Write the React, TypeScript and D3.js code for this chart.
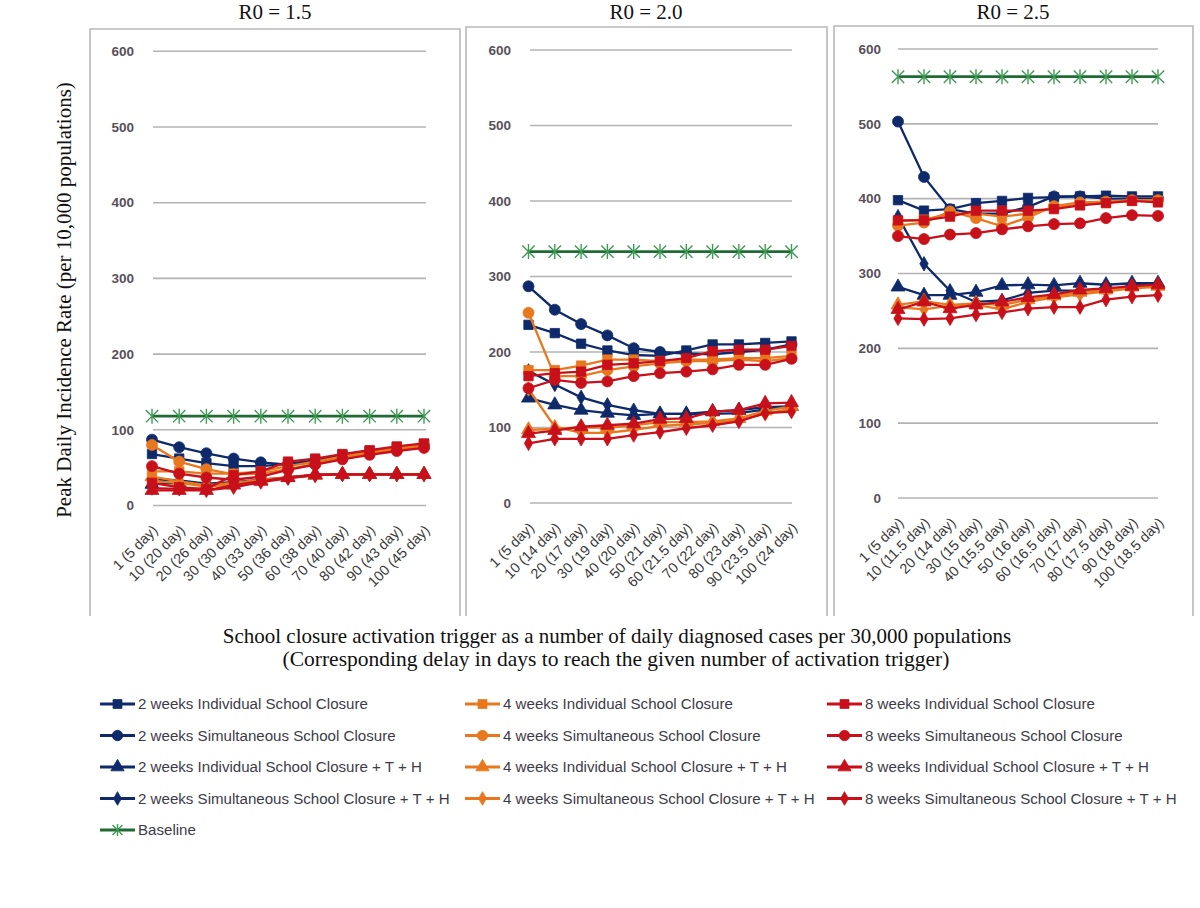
import React from "react";
import * as d3 from "d3";

// ---------- DATA ----------
const categoriesR15 = ["1 (5 day)", "10 (20 day)", "20 (26 day)", "30 (30 day)", "40 (33 day)", "50 (36 day)", "60 (38 day)", "70 (40 day)", "80 (42 day)", "90 (43 day)", "100 (45 day)"];
const categoriesR20 = ["1 (5 day)", "10 (14 day)", "20 (17 day)", "30 (19 day)", "40 (20 day)", "50 (21 day)", "60 (21.5 day)", "70 (22 day)", "80 (23 day)", "90 (23.5 day)", "100 (24 day)"];
const categoriesR25 = ["1 (5 day)", "10 (11.5 day)", "20 (14 day)", "30 (15 day)", "40 (15.5 day)", "50 (16 day)", "60 (16.5 day)", "70 (17 day)", "80 (17.5 day)", "90 (18 day)", "100 (18.5 day)"];
const yTicks = [0, 100, 200, 300, 400, 500, 600];
const panelTitles = ["R0 = 1.5", "R0 = 2.0", "R0 = 2.5"];

const seriesNames = [
  "2 weeks Individual School Closure",
  "2 weeks Simultaneous  School Closure",
  "2 weeks Individual School Closure + T + H",
  "2 weeks Simultaneous  School Closure + T + H",
  "4 weeks Individual School Closure",
  "4 weeks Simultaneous  School Closure",
  "4 weeks Individual School Closure + T + H",
  "4 weeks Simultaneous  School Closure + T + H",
  "8 weeks Individual School Closure",
  "8 weeks Simultaneous  School Closure",
  "8 weeks Individual School Closure + T + H",
  "8 weeks Simultaneous  School Closure + T + H",
  "Baseline",
];

// R0 = 1.5
const r15Ind2 = [68, 62, 56, 52, 52, 55, 60, 67, 72, 77, 81];
const r15Sim2 = [87, 77, 69, 62, 57, 54, 57, 64, 70, 75, 79];
const r15IndTH2 = [28, 30, 27, 30, 33, 37, 40, 41, 41, 41, 41];
const r15SimTH2 = [35, 33, 29, 31, 34, 37, 40, 41, 41, 41, 41];
const r15Ind4 = [45, 45, 42, 42, 45, 52, 58, 65, 71, 76, 80];
const r15Sim4 = [80, 58, 48, 41, 42, 48, 55, 63, 69, 74, 78];
const r15IndTH4 = [38, 32, 27, 30, 34, 37, 40, 41, 41, 41, 41];
const r15SimTH4 = [32, 30, 25, 28, 33, 37, 40, 41, 41, 41, 41];
const r15Ind8 = [30, 24, 22, 40, 45, 58, 62, 68, 73, 78, 82];
const r15Sim8 = [52, 42, 37, 34, 38, 47, 54, 61, 67, 72, 76];
const r15IndTH8 = [20, 20, 20, 27, 32, 37, 41, 41, 41, 41, 41];
const r15SimTH8 = [23, 22, 20, 24, 31, 36, 40, 41, 41, 41, 41];
const r15Base = [118, 118, 118, 118, 118, 118, 118, 118, 118, 118, 118];

// R0 = 2.0
const r20Ind2 = [236, 225, 211, 202, 196, 195, 202, 210, 210, 212, 214];
const r20Sim2 = [287, 256, 237, 222, 205, 200, 198, 197, 200, 203, 210];
const r20IndTH2 = [139, 130, 123, 119, 116, 118, 118, 121, 123, 127, 128];
const r20SimTH2 = [175, 157, 140, 130, 123, 118, 118, 118, 119, 124, 128];
const r20Ind4 = [176, 176, 182, 190, 190, 188, 190, 190, 192, 192, 195];
const r20Sim4 = [252, 168, 168, 176, 181, 185, 188, 188, 190, 188, 192];
const r20IndTH4 = [97, 98, 100, 100, 103, 107, 107, 108, 112, 122, 128];
const r20SimTH4 = [151, 101, 93, 93, 97, 102, 104, 106, 110, 118, 125];
const r20Ind8 = [168, 172, 174, 183, 185, 188, 192, 201, 203, 203, 208];
const r20Sim8 = [152, 163, 159, 161, 168, 172, 174, 177, 183, 183, 191];
const r20IndTH8 = [92, 96, 101, 103, 105, 111, 112, 121, 123, 132, 133];
const r20SimTH8 = [79, 85, 85, 85, 90, 94, 99, 103, 108, 119, 121];
const r20Base = [333, 333, 333, 333, 333, 333, 333, 333, 333, 333, 333];

// R0 = 2.5
const r25Ind2 = [398, 384, 386, 394, 397, 401, 402, 403, 404, 403, 403];
const r25Sim2 = [503, 429, 386, 380, 380, 389, 403, 403, 400, 400, 400];
const r25IndTH2 = [282, 271, 271, 275, 284, 285, 284, 287, 285, 287, 287];
const r25SimTH2 = [376, 313, 277, 262, 264, 274, 277, 277, 277, 284, 285];
const r25Ind4 = [370, 372, 380, 380, 376, 380, 388, 392, 395, 397, 397];
const r25Sim4 = [364, 368, 383, 374, 363, 375, 390, 395, 396, 398, 398];
const r25IndTH4 = [258, 263, 258, 260, 258, 265, 270, 275, 278, 282, 283];
const r25SimTH4 = [255, 252, 257, 258, 252, 262, 268, 272, 276, 280, 282];
const r25Ind8 = [371, 371, 376, 384, 384, 384, 386, 391, 394, 397, 395];
const r25Sim8 = [350, 346, 352, 354, 359, 363, 366, 367, 374, 378, 377];
const r25IndTH8 = [252, 262, 253, 258, 262, 268, 272, 278, 280, 283, 285];
const r25SimTH8 = [240, 239, 240, 245, 248, 253, 255, 255, 265, 269, 271];
const r25Base = [563, 563, 563, 563, 563, 563, 563, 563, 563, 563, 563];

// ---------- STYLES ----------
const NAVY = "#0f2a6b";
const ORANGE = "#e8771e";
const RED = "#c8101a";
const GREEN_LINE = "#1f6b33";
const GREEN_MARK = "#3f9a55";
const seriesColors = [NAVY, NAVY, NAVY, NAVY, ORANGE, ORANGE, ORANGE, ORANGE, RED, RED, RED, RED, GREEN_LINE];
const seriesShapes = ["square", "circle", "triangle", "diamond", "square", "circle", "triangle", "diamond", "square", "circle", "triangle", "diamond", "star"];

const panelData = [
  { cats: categoriesR15, series: [r15Ind2, r15Sim2, r15IndTH2, r15SimTH2, r15Ind4, r15Sim4, r15IndTH4, r15SimTH4, r15Ind8, r15Sim8, r15IndTH8, r15SimTH8, r15Base] },
  { cats: categoriesR20, series: [r20Ind2, r20Sim2, r20IndTH2, r20SimTH2, r20Ind4, r20Sim4, r20IndTH4, r20SimTH4, r20Ind8, r20Sim8, r20IndTH8, r20SimTH8, r20Base] },
  { cats: categoriesR25, series: [r25Ind2, r25Sim2, r25IndTH2, r25SimTH2, r25Ind4, r25Sim4, r25IndTH4, r25SimTH4, r25Ind8, r25Sim8, r25IndTH8, r25SimTH8, r25Base] },
];

// layout (pixels)
const panelLayout = [
  { boxL: 90, boxR: 460, boxT: 29, x0: 152, x1: 424, gx0: 153, gx1: 426, y0: 505.5, y600: 51.3, labelX: 134, titleX: 275 },
  { boxL: 466, boxR: 827, boxT: 27, x0: 528.5, x1: 791.5, gx0: 530, gx1: 792, y0: 503, y600: 50, labelX: 511, titleX: 646 },
  { boxL: 834, boxR: 1193, boxT: 26, x0: 898, x1: 1158, gx0: 898, gx1: 1158, y0: 498, y600: 49, labelX: 881, titleX: 1013 },
];
const BOX_BOTTOM = 616;
const SERIF = "'Liberation Serif', 'Times New Roman', serif";
const SANS = "'Liberation Sans', Arial, sans-serif";

function symbolPath(shape: string, scale = 1): string {
  const s = scale;
  switch (shape) {
    case "square":
      return d3.symbol(d3.symbolSquare, 88 * s * s)()!;
    case "circle":
      return d3.symbol(d3.symbolCircle, 95 * s * s)()!;
    case "triangle":
      return d3.symbol(d3.symbolTriangle, 85 * s * s)()!;
    case "diamond":
      return d3.symbol(d3.symbolDiamond, 60 * s * s)()!;
    default: {
      const v = 7.5 * s;
      const dd = 6.2 * s;
      return `M0,${-v}L0,${v}M${-dd},${-dd}L${dd},${dd}M${-dd},${dd}L${dd},${-dd}`;
    }
  }
}

function Marker({ shape, color, x, y, scale = 1 }: { shape: string; color: string; x: number; y: number; scale?: number }) {
  if (shape === "star") {
    return <path d={symbolPath(shape, scale)} transform={`translate(${x},${y})`} fill="none" stroke={GREEN_MARK} strokeWidth={1.4} />;
  }
  return <path d={symbolPath(shape, scale)} transform={`translate(${x},${y})`} fill={color} stroke={color} strokeWidth={0.8} />;
}

function Panel({ idx }: { idx: number }) {
  const L = panelLayout[idx];
  const D = panelData[idx];
  const x = d3.scalePoint<string>().domain(D.cats).range([L.x0, L.x1]);
  const y = d3.scaleLinear().domain([0, 600]).range([L.y0, L.y600]);
  const line = d3
    .line<number>()
    .x((_, i) => x(D.cats[i])!)
    .y((v) => y(v));
  return (
    <g>
      <path
        d={`M${L.boxL},${BOX_BOTTOM}L${L.boxL},${L.boxT}L${L.boxR},${L.boxT}L${L.boxR},${BOX_BOTTOM}`}
        fill="none"
        stroke="#b8b8b8"
        strokeWidth={1.6}
      />
      <text x={L.titleX} y={19} textAnchor="middle" fontFamily={SERIF} fontSize={21} fill="#111">
        {panelTitles[idx]}
      </text>
      {yTicks.map((t) => (
        <g key={t}>
          <line x1={L.gx0} x2={L.gx1} y1={y(t)} y2={y(t)} stroke="#b3b3b3" strokeWidth={1.6} />
          <text x={L.labelX} y={y(t)} dy="0.35em" textAnchor="end" fontFamily={SANS} fontWeight="bold" fontSize={13.5} fill="#58505a">
            {t}
          </text>
        </g>
      ))}
      {D.cats.map((c) => (
        <text
          key={c}
          transform={`translate(${x(c)! + 3},${L.y0 + 22}) rotate(-45)`}
          textAnchor="end"
          dy="0.35em"
          fontFamily={SANS}
          fontSize={14.3}
          fill="#3a3a3a"
        >
          {c}
        </text>
      ))}
      {D.series.map((vals, si) => {
        const isBase = seriesShapes[si] === "star";
        return (
          <g key={si}>
            <path d={line(vals)!} fill="none" stroke={seriesColors[si]} strokeWidth={isBase ? 2.8 : 2.3} />
            {vals.map((v, i) => (
              <Marker key={i} shape={seriesShapes[si]} color={seriesColors[si]} x={x(D.cats[i])!} y={y(v)} />
            ))}
          </g>
        );
      })}
    </g>
  );
}

const legendCols = [100, 465, 827];
const legendRows = [704, 735.5, 767, 798.5, 830];

function Legend() {
  return (
    <g>
      {seriesNames.map((name, i) => {
        const col = i === 12 ? 0 : Math.floor(i / 4);
        const row = i === 12 ? 4 : i % 4;
        const lx = legendCols[col];
        const ly = legendRows[row];
        const isBase = seriesShapes[i] === "star";
        return (
          <g key={name}>
            <line x1={lx} x2={lx + 35} y1={ly} y2={ly} stroke={seriesColors[i]} strokeWidth={3.2} />
            <Marker shape={seriesShapes[i]} color={seriesColors[i]} x={lx + 17.5} y={ly} scale={isBase ? 0.8 : 0.95} />
            <text x={lx + 38} y={ly} dy="0.35em" fontFamily={SANS} fontSize={15.1} fill="#3c3c48">
              {name}
            </text>
          </g>
        );
      })}
    </g>
  );
}

export default function App() {
  return (
    <svg width={1200} height={908} style={{ position: "absolute", left: 0, top: 0, background: "#fff" }}>
      <rect width={1200} height={908} fill="#fff" />
      {[0, 1, 2].map((i) => (
        <Panel key={i} idx={i} />
      ))}
      <text transform="translate(71,300) rotate(-90)" textAnchor="middle" fontFamily={SERIF} fontSize={21} fill="#111">
        Peak Daily Incidence Rate (per 10,000 populations)
      </text>
      <text x={617} y={643} textAnchor="middle" fontFamily={SERIF} fontSize={21} fill="#111">
        School closure activation trigger as a number of daily diagnosed cases per 30,000 populations
      </text>
      <text x={616} y={666} textAnchor="middle" fontFamily={SERIF} fontSize={21.5} fill="#111">
        (Corresponding delay in days to reach the given number of activation trigger)
      </text>
      <Legend />
    </svg>
  );
}
